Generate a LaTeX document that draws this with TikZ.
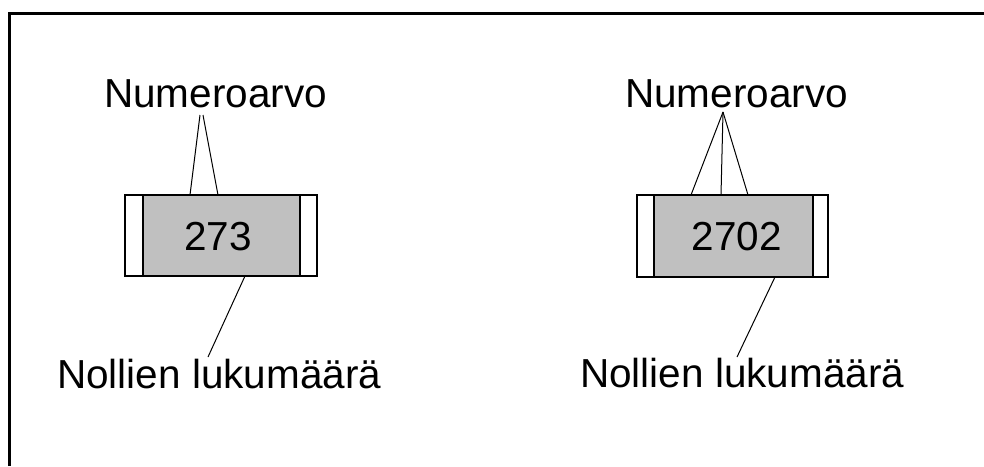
\documentclass[tikz,border=0pt]{standalone}
\usepackage{fontspec}
\setmainfont{Liberation Sans}
\begin{document}
\begin{tikzpicture}[x=1pt,y=-1pt,
  lbl/.style={inner sep=0pt,anchor=base west,font=\fontsize{40.5}{44}\selectfont},
  num/.style={inner sep=0pt,anchor=base,font=\fontsize{40.5}{44}\selectfont},
  body/.style={draw=black,line width=1.2pt,fill={rgb,255:red,192;green,192;blue,192}},
  capw/.style={draw=black,line width=1.2pt,fill=white},
  conn/.style={draw=black,line width=1pt}]
\useasboundingbox (0,0) rectangle (984,466);
% frame (top and left only)
\draw[line width=2.6pt] (9.5,466) -- (9.5,13.5) -- (984,13.5);
% chip 1
\node[body,minimum width=192pt,minimum height=81pt,inner sep=0pt] (b1) at (221,235.5) {};
\node[capw,minimum width=18pt,minimum height=81pt,inner sep=0pt,anchor=north west] (b1l) at (b1.north west) {};
\node[capw,minimum width=17pt,minimum height=81pt,inner sep=0pt,anchor=north east] (b1r) at (b1.north east) {};
\node[num] (t1) at (218,250) {273};
% chip 2
\node[body,minimum width=191pt,minimum height=82pt,inner sep=0pt] (b2) at (732.5,236) {};
\node[capw,minimum width=17pt,minimum height=82pt,inner sep=0pt,anchor=north west] (b2l) at (b2.north west) {};
\node[capw,minimum width=15pt,minimum height=82pt,inner sep=0pt,anchor=north east] (b2r) at (b2.north east) {};
\node[num] (t2) at (737,250) {2702};
% labels
\node[lbl] (n1) at (104,107) {Numeroarvo};
\node[lbl] (z1) at (57,388) {Nollien lukumäärä};
\node[lbl] (n2) at (625,107) {Numeroarvo};
\node[lbl] (z2) at (580,387) {Nollien lukumäärä};
% connector end points
\coordinate (n1a) at (200,115);
\coordinate (n1b) at (203,115);
\coordinate (b1a) at (190,195);
\coordinate (b1b) at (218,195);
\coordinate (b1c) at (245,276);
\coordinate (z1a) at (208,357);
\coordinate (n2a) at (723,112);
\coordinate (b2a) at (691,195);
\coordinate (b2b) at (721,195);
\coordinate (b2c) at (748,195);
\coordinate (b2d) at (775,277);
\coordinate (z2a) at (737,357);
\draw[conn] (n1a) -- (b1a);
\draw[conn] (n1b) -- (b1b);
\draw[conn] (b1c) -- (z1a);
\draw[conn] (n2a) -- (b2a);
\draw[conn] (n2a) -- (b2b);
\draw[conn] (n2a) -- (b2c);
\draw[conn] (b2d) -- (z2a);
\end{tikzpicture}
\end{document}
